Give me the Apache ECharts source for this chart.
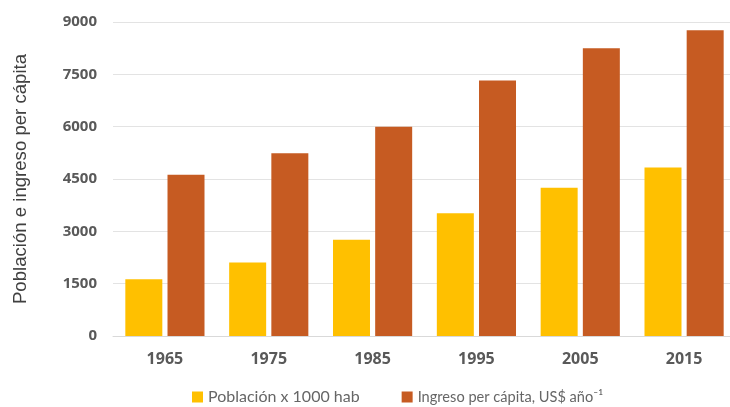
<!DOCTYPE html>
<html>
<head>
<meta charset="utf-8">
<style>
  html, body { margin: 0; padding: 0; background: #ffffff; }
  #chart { width: 730px; height: 407px; }
</style>
<script src="https://cdn.jsdelivr.net/npm/echarts@6/dist/echarts.min.js"></script>
</head>
<body>
<div id="chart"></div>
<script>
// Years on the category axis
const years = ['1965', '1975', '1985', '1995', '2005', '2015'];
// Population (thousands of inhabitants)
const poblacion = [1630, 2110, 2760, 3520, 4250, 4830];
// Income per capita (US$ per year)
const ingreso = [4620, 5240, 6000, 7320, 8250, 8760];
// Value-axis ticks
const yTicks = [0, 1500, 3000, 4500, 6000, 7500, 9000];

const serieNames = ['Población x 1000 hab', 'Ingreso per cápita, US$ año⁻¹'];
const colors = ['#FFC000', '#C65B22'];

const chart = echarts.init(document.getElementById('chart'), null, { renderer: 'canvas' });

chart.setOption({
  animation: false,
  backgroundColor: '#ffffff',
  // plot area runs slightly past the right edge of the canvas
  grid: { left: 113, width: 623, top: 22, bottom: 71, containLabel: false, outerBoundsMode: 'none' },
  legend: {
    left: 192,
    top: 389,
    padding: 0,
    itemWidth: 11,
    itemHeight: 11,
    itemGap: 42,
    icon: 'rect',
    textStyle: {
      fontFamily: 'Lato', fontSize: 16, color: '#666666',
      rich: { compact: { fontFamily: 'Lato', fontSize: 14.6, color: '#666666' } }
    },
    // the longer income label is set a touch tighter
    formatter: (name) => (name === serieNames[1] ? '{compact|' + name + '}' : name),
    data: serieNames
  },
  xAxis: {
    type: 'category',
    data: years,
    axisTick: { show: false },
    axisLine: { show: true, lineStyle: { color: '#d9d9d9', width: 1 } },
    axisLabel: { fontFamily: 'Open Sans', fontWeight: 'bold', fontSize: 16, color: '#595959', margin: 15 }
  },
  yAxis: {
    type: 'value',
    min: yTicks[0],
    max: yTicks[yTicks.length - 1],
    interval: yTicks[1] - yTicks[0],
    name: 'Población e ingreso per cápita',
    nameLocation: 'middle',
    nameGap: 83,
    nameRotate: 90,
    nameTextStyle: { fontFamily: 'Liberation Sans', fontSize: 18.6, color: '#404040' },
    axisLine: { show: false },
    axisTick: { show: false },
    splitLine: { lineStyle: { color: '#e3e3e3', width: 1 } },
    axisLabel: {
      fontFamily: 'Open Sans', fontWeight: 'bold', fontSize: 15, color: '#595959', margin: 16,
      formatter: (v) => String(v)
    }
  },
  series: [
    {
      name: serieNames[0],
      type: 'bar',
      data: poblacion,
      barWidth: 37,
      barGap: '14%',
      itemStyle: { color: colors[0] }
    },
    {
      name: serieNames[1],
      type: 'bar',
      data: ingreso,
      barWidth: 37,
      itemStyle: { color: colors[1] }
    }
  ]
});
</script>
</body>
</html>
